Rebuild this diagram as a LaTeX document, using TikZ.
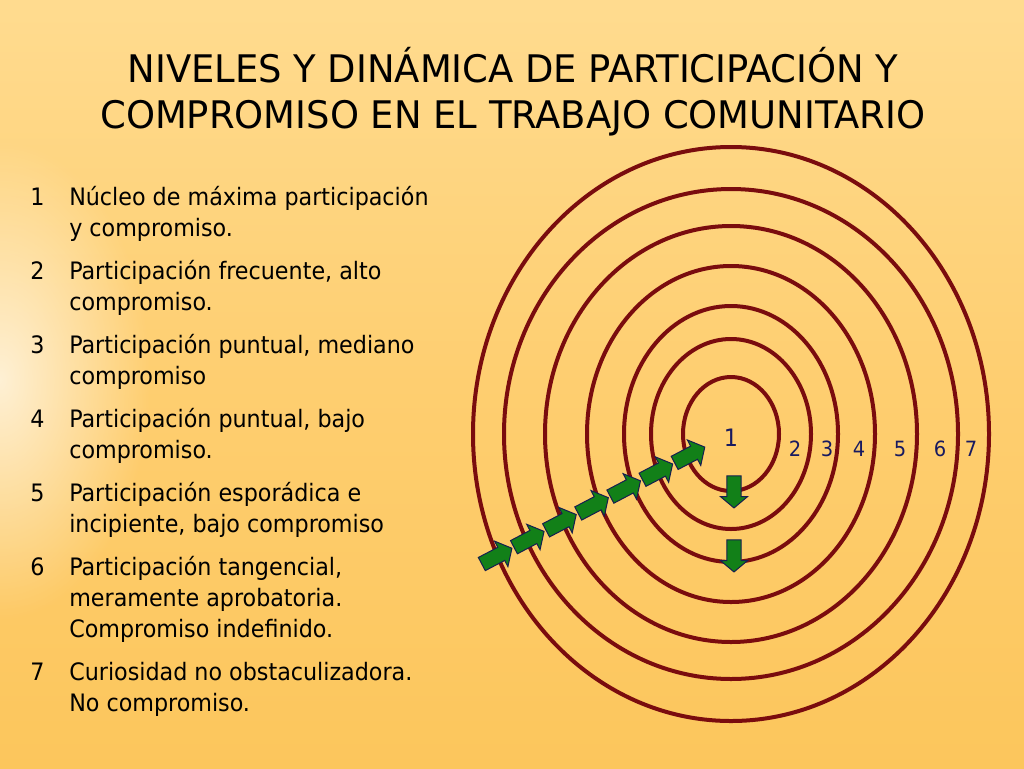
\documentclass[tikz,border=0pt]{standalone}
\usepackage{fontspec}
\setmainfont{DejaVu Sans Condensed}[FakeStretch=1.03]
\newfontfamily\titlefont{DejaVu Sans Condensed}[FakeStretch=1.08]
\usetikzlibrary{shapes.arrows,fadings}

\definecolor{ringred}{RGB}{122,12,14}
\definecolor{arrowgreen}{RGB}{18,128,24}
\definecolor{arrowline}{RGB}{22,30,80}
\definecolor{numblue}{RGB}{24,26,96}
\definecolor{bgtop}{RGB}{255,212,125}
\definecolor{bgband}{RGB}{255,223,152}
\definecolor{bgmid}{RGB}{254,206,112}
\definecolor{bgbot}{RGB}{250,190,72}

\pgfdeclareverticalshading{bgshade}{100bp}{color(0bp)=(bgbot); color(50bp)=(bgmid); color(82bp)=(bgband); color(94bp)=(bgband); color(100bp)=(bgtop)}
\tikzfading[name=glowfade, inner color=transparent!0, outer color=transparent!100]

\tikzset{
    ring/.style={draw=ringred, line width=3pt},
    grnarrow/.style={single arrow, draw=arrowline, fill=arrowgreen, line width=0.75pt,
        inner xsep=0pt, inner ysep=5.2pt, minimum height=25.5pt,
        single arrow head extend=5.2pt, single arrow tip angle=100},
    downarrow/.style={grnarrow, inner ysep=4.9pt, minimum height=24pt, single arrow head extend=4.9pt},
    ringnum/.style={text=numblue, inner sep=0pt, font=\fontsize{15.75}{18}\selectfont},
    itemnum/.style={anchor=base west, inner sep=0pt, font=\fontsize{18}{23.25}\selectfont},
    itemtext/.style={anchor=base west, inner sep=0pt, font=\fontsize{18}{23.25}\selectfont},
}
\newcommand{\lines}[1]{\begin{tabular}[t]{@{}l@{}}#1\end{tabular}}

\begin{document}
\begin{tikzpicture}[x=0.75pt, y=-0.75pt]
    \useasboundingbox (0,0) rectangle (1024,768);

    % background
    \shade[shading=bgshade] (0,0) rectangle (1024,768);
    \fill[white, opacity=0.7, path fading=glowfade] (0,380) ellipse [x radius=150, y radius=240];

    % title
    \node[align=center, anchor=base, inner sep=0pt, font=\titlefont\fontsize{28.5}{34.5}\selectfont] (title) at (513, 128)
        {NIVELES Y DINÁMICA DE PARTICIPACIÓN Y\\COMPROMISO EN EL TRABAJO COMUNITARIO};

    % levels list
    \node[itemnum] (k1) at (30, 205) {1};
    \node[itemtext] (t1) at (69, 205) {\lines{Núcleo de máxima participación\\y compromiso.}};
    \node[itemnum] (k2) at (30, 279) {2};
    \node[itemtext] (t2) at (69, 279) {\lines{Participación frecuente, alto\\compromiso.}};
    \node[itemnum] (k3) at (30, 353) {3};
    \node[itemtext] (t3) at (69, 353) {\lines{Participación puntual, mediano\\compromiso}};
    \node[itemnum] (k4) at (30, 427) {4};
    \node[itemtext] (t4) at (69, 427) {\lines{Participación puntual, bajo\\compromiso.}};
    \node[itemnum] (k5) at (30, 501) {5};
    \node[itemtext] (t5) at (69, 501) {\lines{Participación esporádica e\\incipiente, bajo compromiso}};
    \node[itemnum] (k6) at (30, 575) {6};
    \node[itemtext] (t6) at (69, 575) {\lines{Participación tangencial,\\meramente aprobatoria.\\Compromiso indefinido.}};
    \node[itemnum] (k7) at (30, 680) {7};
    \node[itemtext] (t7) at (69, 680) {\lines{Curiosidad no obstaculizadora.\\No compromiso.}};

    % rings
    \foreach \rx/\ry in {48/57, 80/95, 107/128, 144/168, 186/208, 227/245, 258/287}
        \draw[ring] (731,434) ellipse [x radius=\rx, y radius=\ry];

    % ring numbers
    \node[ringnum, font=\fontsize{18}{20}\selectfont] (n1) at (731, 438) {1};
    \node[ringnum] (n2) at (795, 449) {2};
    \node[ringnum] (n3) at (827, 449) {3};
    \node[ringnum] (n4) at (859, 449) {4};
    \node[ringnum] (n5) at (900, 449) {5};
    \node[ringnum] (n6) at (940, 449) {6};
    \node[ringnum] (n7) at (971, 449) {7};

    % arrows
    \foreach \i in {1,...,7}
        \node[grnarrow, rotate=27.7] (d\i) at ({494.1+32.14*(\i-1)}, {557.6-16.86*(\i-1)}) {};
    \node[downarrow, rotate=-90] (v1) at (734, 489) {};
    \node[downarrow, rotate=-90] (v2) at (734, 553) {};
\end{tikzpicture}
\end{document}
